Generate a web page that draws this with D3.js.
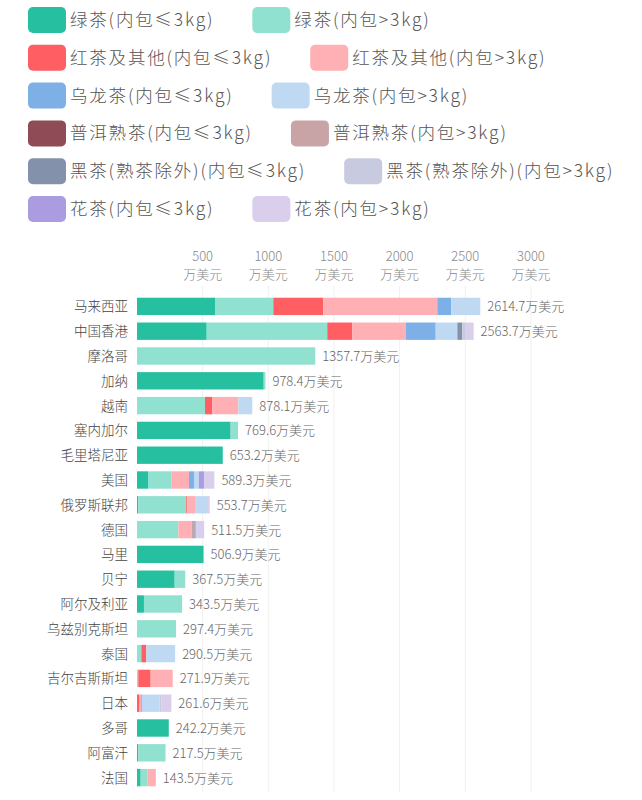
<!DOCTYPE html>
<html><head><meta charset="utf-8">
<script src="https://cdn.jsdelivr.net/npm/d3@7"></script>
<style>body{margin:0;background:#fff}text{font-family:"Noto Sans CJK SC","Noto Sans",sans-serif;font-weight:300}</style>
</head><body><div id="chart"></div>
<script>
const series = ["绿茶(内包≤3kg)","绿茶(内包>3kg)","红茶及其他(内包≤3kg)","红茶及其他(内包>3kg)",
  "乌龙茶(内包≤3kg)","乌龙茶(内包>3kg)","普洱熟茶(内包≤3kg)","普洱熟茶(内包>3kg)",
  "黑茶(熟茶除外)(内包≤3kg)","黑茶(熟茶除外)(内包>3kg)","花茶(内包≤3kg)","花茶(内包>3kg)"]
const colors = ["#26bfa0","#90e1d0","#ff5e63","#ffb0b4","#7cb0e6","#c0d9f3",
  "#8f4b56","#c9a4a7","#8391ab","#c8cbdf","#ab9ce1","#d9cfec"]
const countries = ["马来西亚","中国香港","摩洛哥","加纳","越南","塞内加尔","毛里塔尼亚","美国","俄罗斯联邦","德国",
  "马里","贝宁","阿尔及利亚","乌兹别克斯坦","泰国","吉尔吉斯斯坦","日本","多哥","阿富汗","法国"]
const totals = [2614.7,2563.7,1357.7,978.4,878.1,769.6,653.2,589.3,553.7,511.5,
  506.9,367.5,343.5,297.4,290.5,271.9,261.6,242.2,217.5,143.5]
// per country, values in series order
const values = [
  [594,444,381,868,107,220.7,0,0,0,0,0,0],
  [531,918,191,406,229,165,0,0,38,20,0,65.7],
  [0,1357.7,0,0,0,0,0,0,0,0,0,0],
  [965,13.4,0,0,0,0,0,0,0,0,0,0],
  [0,518,56,198,0,106.1,0,0,0,0,0,0],
  [713,56.6,0,0,0,0,0,0,0,0,0,0],
  [653.2,0,0,0,0,0,0,0,0,0,0,0],
  [84,177,0,135,38,38,0,0,0,0,38,79.3],
  [10,365,8,64,0,94,0,0,0,0,0,12.7],
  [0,315,0,102,0,0,0,20,10,0,0,64.5],
  [506.9,0,0,0,0,0,0,0,0,0,0,0],
  [287,80.5,0,0,0,0,0,0,0,0,0,0],
  [53,290.5,0,0,0,0,0,0,0,0,0,0],
  [0,297.4,0,0,0,0,0,0,0,0,0,0],
  [0,33,38,0,0,219.5,0,0,0,0,0,0],
  [0,10,94,167.9,0,0,0,0,0,0,0,0],
  [0,0,20,12,10,131,0,0,0,15,0,73.6],
  [242.2,0,0,0,0,0,0,0,0,0,0,0],
  [10,207.5,0,0,0,0,0,0,0,0,0,0],
  [28,50,0,65.5,0,0,0,0,0,0,0,0]
]
const ticks = [500,1000,1500,2000,2500,3000]

const W = 642, H = 800
const svg = d3.select("#chart").append("svg").attr("width", W).attr("height", H)

// legend
const lg = svg.append("g")
for (let r = 0; r < 6; r++) {
  let x = 28
  const y = 20 + r * 37.8
  for (let c = 0; c < 2; c++) {
    const i = r * 2 + c
    lg.append("rect").attr("x", x).attr("y", y - 13).attr("width", 38).attr("height", 26)
      .attr("rx", 5).attr("fill", colors[i])
    const t = lg.append("text").attr("x", x + 42).attr("y", y + 6).attr("font-size", 17.5)
      .attr("letter-spacing", 1.8).attr("fill", "#555").text(series[i])
    x += 42 + t.node().getComputedTextLength() + 38
  }
}

const x = d3.scaleLinear().domain([0, 3000]).range([137, 137 + 3000 * 0.1313])
const y = d3.scaleBand().domain(countries).range([294, 790]).paddingInner(0.3).paddingOuter(0.15)

// grid
svg.append("g").selectAll("line").data(ticks).join("line")
  .attr("x1", d => x(d)).attr("x2", d => x(d)).attr("y1", 286).attr("y2", 792)
  .attr("stroke", "#f0f0f0")

const ax = svg.append("g").selectAll("g").data(ticks).join("g")
ax.append("text").attr("x", d => x(d)).attr("y", 261).attr("text-anchor", "middle")
  .attr("font-size", 13).attr("fill", "#888").text(d => d)
ax.append("text").attr("x", d => x(d)).attr("y", 279).attr("text-anchor", "middle")
  .attr("font-size", 13).attr("fill", "#888").text("万美元")

// bars
const stack = d3.stack().keys(d3.range(series.length))
const rows = values.map((v, i) => Object.assign({name: countries[i]}, v))
const layers = stack(rows)
svg.append("g").selectAll("g").data(layers).join("g")
  .attr("fill", (d, i) => colors[i])
  .selectAll("rect").data(d => d).join("rect")
  .attr("x", d => x(d[0])).attr("width", d => x(d[1]) - x(d[0]))
  .attr("y", d => y(d.data.name)).attr("height", y.bandwidth())

svg.append("g").selectAll("text").data(countries).join("text")
  .attr("x", 128).attr("y", d => y(d) + y.bandwidth() / 2 + 5)
  .attr("text-anchor", "end").attr("font-size", 13.5).attr("fill", "#444").text(d => d)

svg.append("g").selectAll("text").data(totals).join("text")
  .attr("x", d => x(d) + 7).attr("y", (d, i) => y(countries[i]) + y.bandwidth() / 2 + 5)
  .attr("font-size", 13).attr("fill", "#666").text(d => d.toFixed(1) + "万美元")
</script></body></html>
